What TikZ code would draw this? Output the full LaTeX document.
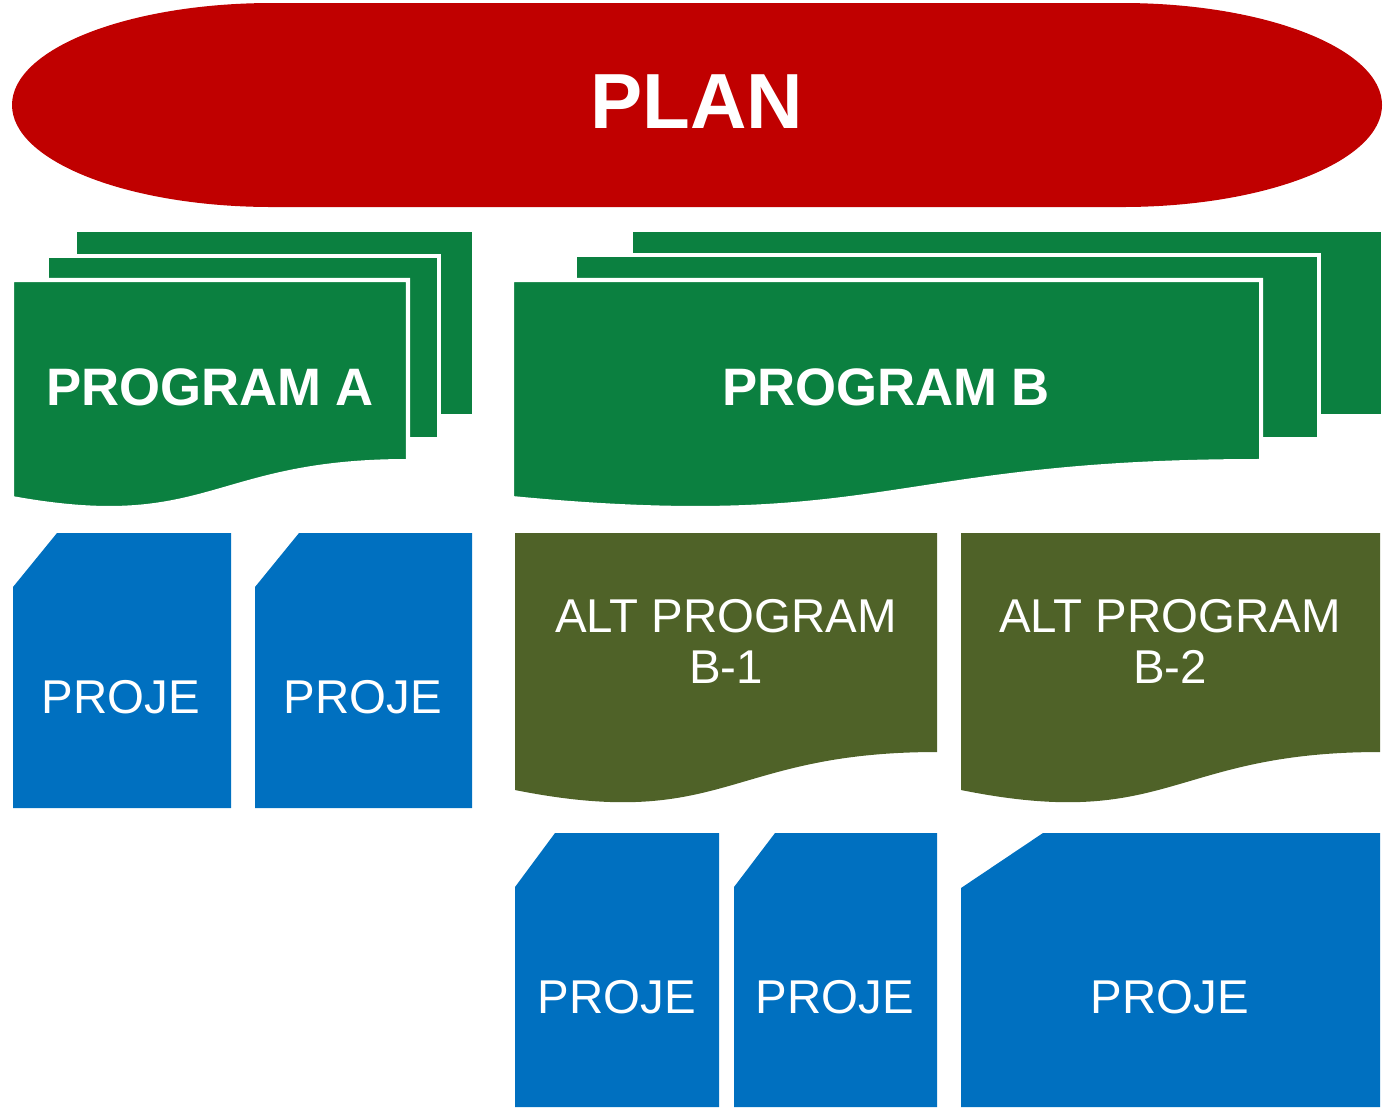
\documentclass[tikz,border=0pt]{standalone}
\usepackage{fontspec}
\setmainfont{Liberation Sans}
\usepackage{tikz}
\definecolor{planred}{HTML}{C00000}
\definecolor{proggreen}{HTML}{0B8040}
\definecolor{altolive}{HTML}{4F6228}
\definecolor{projblue}{HTML}{0070C0}
\tikzstyle{plan}=[fill=planred]
\tikzstyle{backsheet}=[fill=proggreen]
\tikzstyle{sheet}=[fill=proggreen,draw=white,line width=2.3pt]
\tikzstyle{alt}=[fill=altolive]
\tikzstyle{card}=[fill=projblue]
\tikzstyle{lbl}=[text=white,align=center,inner sep=0pt,
  font=\fontsize{27}{29}\selectfont]
\tikzstyle{title}=[lbl,font=\bfseries\fontsize{30}{34}\selectfont]

\begin{document}
\begin{tikzpicture}[x=0.02cm,y=-0.02cm]
    \useasboundingbox (0,0) rectangle (1391,1107);

    % the plan on top
    \fill[plan] (272,3) -- (1122,3)
      .. controls (1265.6,3) and (1382,48.7) .. (1382,105)
      .. controls (1382,161.3) and (1265.6,207) .. (1122,207)
      -- (272,207)
      .. controls (128.4,207) and (12,161.3) .. (12,105)
      .. controls (12,48.7) and (128.4,3) .. (272,3) -- cycle;
    \node[lbl,font=\bfseries\fontsize{44.5}{50}\selectfont] (plan) at (697,102) {PLAN};

    % program A, three sheets
    \fill[backsheet] (77,232) rectangle (472,414);
    \filldraw[sheet] (47,256) rectangle (439,439);
    \filldraw[sheet] (12,280) -- (408,280) -- (408,461)
      .. controls (210,461) and (210,534) .. (12,498) -- cycle;
    \node[title] (progA) at (210,387) {PROGRAM A};

    % program B, three sheets
    \fill[backsheet] (633,232) rectangle (1381,414);
    \filldraw[sheet] (575,255) rectangle (1319,439);
    \filldraw[sheet] (512,280) -- (1261,280) -- (1261,461)
      .. controls (886,461) and (886,534) .. (512,498) -- cycle;
    \node[title] (progB) at (886,387) {PROGRAM B};

    % alternative programs
    \fill[alt] (515,533) -- (937,533) -- (937,752)
      .. controls (726,752) and (726,832) .. (515,790) -- cycle;
    \fill[alt] (961,533) -- (1380,533) -- (1380,752)
      .. controls (1170,752) and (1170,832) .. (961,790) -- cycle;
    \node[lbl] (altB1) at (726,641) {ALT PROGRAM\\B-1};
    \node[lbl] (altB2) at (1170,641) {ALT PROGRAM\\B-2};

    % projects under program A
    \fill[card] (13,587) -- (57,533) -- (231,533) -- (231,808) -- (13,808) -- cycle;
    \fill[card] (255,587) -- (299,533) -- (472,533) -- (472,808) -- (255,808) -- cycle;
    \node[lbl] (projA1) at (121,697) {PROJE};
    \node[lbl] (projA2) at (363,697) {PROJE};

    % projects under the alternatives
    \fill[card] (515,887) -- (555,833) -- (719,833) -- (719,1107) -- (515,1107) -- cycle;
    \fill[card] (734,887) -- (775,833) -- (937,833) -- (937,1107) -- (734,1107) -- cycle;
    \fill[card] (961,888) -- (1043,833) -- (1380,833) -- (1380,1107) -- (961,1107) -- cycle;
    \node[lbl] (projB1) at (617,997) {PROJE};
    \node[lbl] (projB2) at (835,997) {PROJE};
    \node[lbl] (projB3) at (1170,997) {PROJE};
\end{tikzpicture}
\end{document}
